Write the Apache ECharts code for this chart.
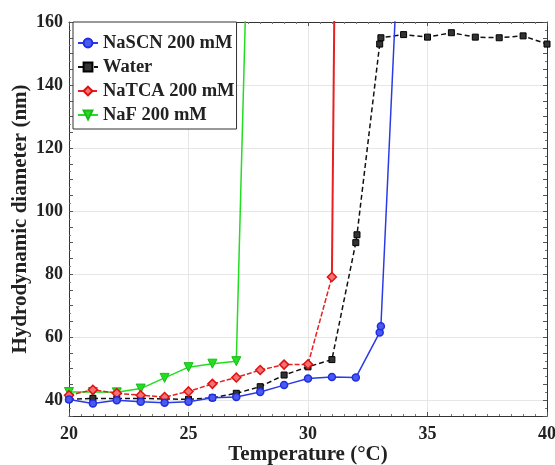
<!DOCTYPE html>
<html><head><meta charset="utf-8">
<script src="https://cdn.jsdelivr.net/npm/echarts@6/dist/echarts.min.js"></script>
<style>html,body{margin:0;padding:0;background:#fff}#c{width:555px;height:465px}</style>
</head><body><div id="c"></div>
<script>
// Data
const seriesNames = ['NaSCN 200 mM', 'Water', 'NaTCA 200 mM', 'NaF 200 mM'];
const scnX = [20, 21, 22, 23, 24, 25, 26, 27, 28, 29, 30, 31, 32, 33, 33.05];
const scnY = [40.2, 39.0, 40.0, 39.5, 39.2, 39.5, 40.8, 41.0, 42.6, 44.8, 46.9, 47.4, 47.2, 61.5, 63.5];
const scnEnd = [33.65, 162];
const waterX = [20, 21, 22, 23, 24, 25, 26, 27, 28, 29, 30, 31, 32, 32.05, 33, 33.05, 34, 35, 36, 37, 38, 39, 40];
const waterY = [40.3, 40.6, 40.5, 40.6, 40.4, 40.3, 40.8, 42.2, 44.3, 48.0, 50.6, 52.9, 90.0, 92.5, 153.0, 155.0, 156.0, 155.2, 156.6, 155.2, 155.0, 155.6, 153.0];
const tcaX = [20, 21, 22, 23, 24, 25, 26, 27, 28, 29, 30, 31];
const tcaY = [41.6, 43.3, 42.2, 41.6, 41.0, 42.8, 45.2, 47.2, 49.6, 51.3, 51.4, 79.1];
const tcaEnd = [31.1, 162];
const nafX = [20, 21, 22, 23, 24, 25, 26, 27];
const nafY = [42.6, 42.6, 42.5, 43.7, 47.1, 50.5, 51.6, 52.4];
const nafEnd = [27.38, 162];
const xTicks = [20, 25, 30, 35, 40];
const yTicks = [40, 60, 80, 100, 120, 140, 160];

const font = 'Liberation Serif';
function pts(xs, ys, end) {
  const d = xs.map((x, i) => [x, ys[i]]);
  if (end) d.push({value: end, symbol: 'none'});
  return d;
}
const gridMarks = yTicks.filter(v => v < 160).map(v => ({yAxis: v}))
  .concat(xTicks.filter(v => v > 20 && v < 40).map(v => ({xAxis: v})));

const axisCommon = {
  axisLine: {show: true, lineStyle: {color: '#333', width: 1}},
  axisTick: {show: true, inside: true, length: 4, lineStyle: {color: '#555'}},
  minorTick: {show: true, length: 2, lineStyle: {color: '#777'}},
  splitLine: {show: false},
  nameMoveOverlap: false
};

const chart = echarts.init(document.getElementById('c'), null, {renderer: 'canvas'});
chart.setOption({
  animation: false,
  backgroundColor: '#fff',
  grid: {left: 69, right: 8, top: 22, bottom: 49, containLabel: false, outerBoundsMode: 'none'},
  legend: {
    data: seriesNames, z: 10,
    orient: 'vertical', left: 73, top: 22,
    padding: [11, 2, 4, 4], itemGap: 4, itemWidth: 20, itemHeight: 11,
    borderColor: '#333', borderWidth: 1, backgroundColor: '#fff',
    textStyle: {fontFamily: font, fontWeight: 'bold', fontSize: 18.5, lineHeight: 20, color: '#222'}
  },
  xAxis: [
    Object.assign({}, axisCommon, {
      type: 'value', min: 20, max: 40, interval: 5, position: 'bottom',
      minorTick: Object.assign({}, axisCommon.minorTick, {splitNumber: 10}),
      axisLabel: {margin: 9, fontFamily: font, fontWeight: 'bold', fontSize: 18, color: '#222'},
      name: 'Temperature (°C)', nameLocation: 'middle', nameGap: 28,
      nameTextStyle: {fontFamily: font, fontWeight: 'bold', fontSize: 21, color: '#222'}
    }),
    Object.assign({}, axisCommon, {
      type: 'value', min: 20, max: 40, interval: 5, position: 'top',
      minorTick: Object.assign({}, axisCommon.minorTick, {splitNumber: 10}),
      axisLabel: {show: false}
    })
  ],
  yAxis: [
    Object.assign({}, axisCommon, {
      type: 'value', min: 35, max: 160, interval: 5, position: 'left',
      minorTick: Object.assign({}, axisCommon.minorTick, {splitNumber: 2}),
      axisLabel: {margin: 6, fontFamily: font, fontWeight: 'bold', fontSize: 18, color: '#222',
        formatter: v => (yTicks.indexOf(v) >= 0 ? String(v) : '')},
      name: 'Hydrodynamic diameter (nm)', nameLocation: 'middle', nameGap: 38,
      nameTextStyle: {fontFamily: font, fontWeight: 'bold', fontSize: 21, color: '#222'}
    }),
    Object.assign({}, axisCommon, {
      type: 'value', min: 35, max: 160, interval: 5, position: 'right',
      minorTick: Object.assign({}, axisCommon.minorTick, {splitNumber: 2}),
      axisLabel: {show: false}
    })
  ],
  series: [
    {
      name: 'grid', type: 'line', data: [], z: 0, silent: true,
      markLine: {silent: true, z: 0, symbol: 'none', label: {show: false},
        lineStyle: {color: '#e6e6e6', type: 'solid', width: 1}, data: gridMarks}
    },
    {
      name: seriesNames[0], type: 'line', data: pts(scnX, scnY, scnEnd),
      color: '#1f2ee0', symbol: 'circle', symbolSize: 7, clip: true, z: 4,
      lineStyle: {width: 1.5, color: '#2a3ae6'},
      itemStyle: {color: '#4a5af0', borderColor: '#1f2ee0', borderWidth: 1.5}
    },
    {
      name: seriesNames[1], type: 'line', data: pts(waterX, waterY),
      color: '#111', symbol: 'rect', symbolSize: 6, clip: true, z: 3,
      lineStyle: {width: 1.5, color: '#111', type: [5, 3]},
      itemStyle: {color: '#333', borderColor: '#000', borderWidth: 1}
    },
    {
      name: seriesNames[2], type: 'line', data: pts(tcaX, tcaY),
      color: '#e82020', symbol: 'diamond', symbolSize: 9, clip: true, z: 3,
      lineStyle: {width: 1.5, color: '#e82020', type: [5, 2]},
      itemStyle: {color: '#f57070', borderColor: '#e01010', borderWidth: 1.5}
    },
    {
      name: seriesNames[2], type: 'line',
      data: [[tcaX[tcaX.length - 1], tcaY[tcaY.length - 1]], tcaEnd],
      color: '#e82020', symbol: 'none', clip: true, z: 2,
      lineStyle: {width: 2, color: '#e82020'}
    },
    {
      name: seriesNames[3], type: 'line', data: pts(nafX, nafY, nafEnd),
      color: '#22dd22', symbol: 'triangle', symbolRotate: 180, symbolSize: 9, clip: true, z: 2,
      lineStyle: {width: 1.5, color: '#22dd22'},
      itemStyle: {color: '#22dd22', borderColor: '#1bbb1b', borderWidth: 1}
    }
  ]
});
</script></body></html>
